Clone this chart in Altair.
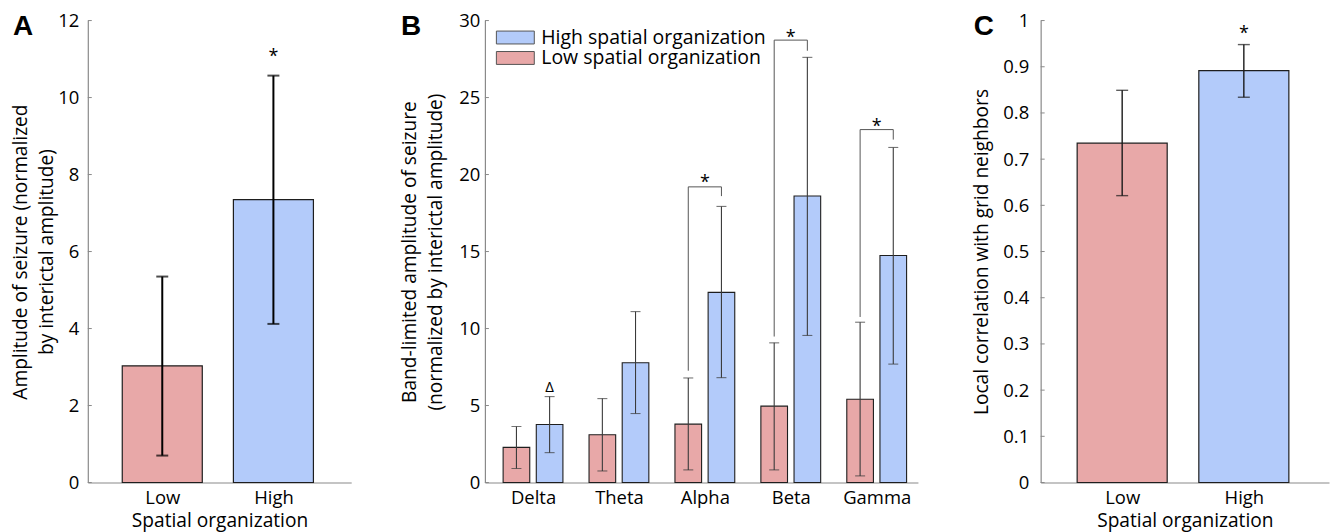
import altair as alt
import pandas as pd

FONT = "Open Sans"
LOW_C = "#E8A8A8"
HIGH_C = "#B3CBFA"
EDGE = "#1e1e1e"
AXIS_C = "#8a8a8a"

# ---------------- Panel A ----------------
a_groups = ["Low", "High"]
a_means = [3.03, 7.35]
a_lo = [0.70, 4.12]
a_hi = [5.35, 10.57]
a_star = [11.17]
a_yticks = [0, 2, 4, 6, 8, 10, 12]
a_title = ["Amplitude of seizure (normalized", "by interictal amplitude)"]

# ---------------- Panel B ----------------
b_bands = ["Delta", "Theta", "Alpha", "Beta", "Gamma"]
b_low_mean = [2.28, 3.10, 3.79, 4.96, 5.41]
b_low_lo = [0.91, 0.75, 0.82, 0.82, 0.43]
b_low_hi = [3.64, 5.45, 6.79, 9.07, 10.41]
b_high_mean = [3.77, 7.78, 12.35, 18.61, 14.74]
b_high_lo = [1.94, 4.48, 6.81, 9.55, 7.69]
b_high_hi = [5.58, 11.10, 17.93, 27.61, 21.76]
b_series = ["High spatial organization", "Low spatial organization"]
b_br_bands = ["Alpha", "Beta", "Gamma"]
b_br_top = [19.20, 28.73, 22.92]
b_br_left_bottom = [7.26, 9.48, 10.75]
b_br_right_bottom = [18.60, 28.04, 22.27]
b_br_star = [19.75, 29.16, 23.39]
b_delta_band = ["Delta"]
b_delta_mark = [6.23]
b_yticks = [0, 5, 10, 15, 20, 25, 30]
b_title = ["Band-limited amplitude of seizure", "(normalized by interictal amplitude)"]

# ---------------- Panel C ----------------
c_groups = ["Low", "High"]
c_means = [0.7345, 0.8915]
c_lo = [0.621, 0.834]
c_hi = [0.849, 0.948]
c_star = [0.981]
c_yticks = [0, 0.1, 0.2, 0.3, 0.4, 0.5, 0.6, 0.7, 0.8, 0.9, 1.0]
c_title = "Local correlation with grid neighbors"

H = 463
LABEL_FS = 18.5
TITLE_FS = 19.2


def label_expr(names):
    parts = " : ".join(f"datum.value == {i+1} ? '{n}'" for i, n in enumerate(names))
    return parts + " : ''"


def two_bar_panel(letter, groups, means, lo, hi, star, yticks, ytitle, ydomain,
                  width, half_w, err_w, err_c, label_pad, title_x, yfmt, letter_x):
    colors = [LOW_C, HIGH_C]
    df = pd.DataFrame({
        "g": groups,
        "pos": [i + 1 for i in range(len(groups))],
        "m": means, "lo": lo, "hi": hi,
        "fill": colors,
    })
    df["x0"] = df["pos"] - half_w
    df["x1"] = df["pos"] + half_w
    xs = alt.Scale(domain=[0.33, 2.70], nice=False, zero=False)
    ys = alt.Scale(domain=ydomain, nice=False, zero=True)
    base = alt.Chart(df)
    bars = base.mark_bar(stroke=EDGE, strokeWidth=1.2).encode(
        x=alt.X("x0:Q", scale=xs, axis=alt.Axis(
            values=[1, 2], labelExpr=label_expr(groups), title="Spatial organization",
            labelPadding=6, titlePadding=4.5, labelFlush=False, ticks=False, tickSize=0)),
        x2="x1:Q",
        y=alt.Y("m:Q", scale=ys, axis=alt.Axis(
            values=yticks, format=yfmt, title=ytitle, labelPadding=label_pad,
            titleX=title_x, titleBaseline="bottom", titleLineHeight=26,
            ticks=False, tickSize=0)),
        y2=alt.datum(0),
        fill=alt.Fill("fill:N", scale=None),
    )
    err = base.mark_rule(color=err_c, strokeWidth=err_w).encode(
        x="pos:Q", y="lo:Q", y2="hi:Q")
    cap_lo = base.mark_tick(orient="horizontal", size=12, thickness=err_w, color=err_c).encode(
        x="pos:Q", y="lo:Q")
    cap_hi = base.mark_tick(orient="horizontal", size=12, thickness=err_w, color=err_c).encode(
        x="pos:Q", y="hi:Q")
    sdf = pd.DataFrame({"pos": [2], "y": star, "t": ["*"]})
    stars = alt.Chart(sdf).mark_text(font=FONT, fontSize=18, baseline="alphabetic", dy=10).encode(
        x="pos:Q", y="y:Q", text="t:N")
    tdf = pd.DataFrame({"v": yticks})
    yt = alt.Chart(tdf).mark_rule(color=AXIS_C, strokeWidth=1).encode(
        x=alt.value(0), x2=alt.value(4), y="v:Q")
    ldf = pd.DataFrame({"t": [letter]})
    let = alt.Chart(ldf).mark_text(font="Liberation Sans", fontWeight="bold", fontSize=28,
                                   align="left", baseline="alphabetic").encode(
        x=alt.value(letter_x), y=alt.value(14), text="t:N")
    return alt.layer(bars, err, cap_lo, cap_hi, yt, stars, let).properties(width=width, height=H)


panel_a = two_bar_panel("A", a_groups, a_means, a_lo, a_hi, a_star, a_yticks, a_title, [0, 12],
                        264, 0.36, 2, "#000000", 9, -57, "d", -75)
panel_c = two_bar_panel("C", c_groups, c_means, c_lo, c_hi, c_star, c_yticks, c_title, [0, 1],
                        289, 0.37, 1.4, "#1a1a1a", 12, -49, ".1~f", -67)

# ---------------- Build panel B ----------------
OFF = 0.193
HW = 0.155
rows = []
for i, band in enumerate(b_bands):
    rows.append({"band": band, "org": b_series[1], "pos": i + 1 - OFF,
                 "m": b_low_mean[i], "lo": b_low_lo[i], "hi": b_low_hi[i]})
    rows.append({"band": band, "org": b_series[0], "pos": i + 1 + OFF,
                 "m": b_high_mean[i], "lo": b_high_lo[i], "hi": b_high_hi[i]})
bdf = pd.DataFrame(rows)
bdf["x0"] = bdf["pos"] - HW
bdf["x1"] = bdf["pos"] + HW

bxs = alt.Scale(domain=[0.44, 5.48], nice=False, zero=False)
bys = alt.Scale(domain=[0, 30], nice=False)
bbase = alt.Chart(bdf)
b_bars = bbase.mark_bar(stroke=EDGE, strokeWidth=1.1).encode(
    x=alt.X("x0:Q", scale=bxs, axis=alt.Axis(
        values=[1, 2, 3, 4, 5], labelExpr=label_expr(b_bands), title=None,
        labelPadding=6, labelFlush=False, ticks=False, tickSize=0)),
    x2="x1:Q",
    y=alt.Y("m:Q", scale=bys, axis=alt.Axis(
        values=b_yticks, format="d", title=b_title, labelPadding=5,
        titleX=-66, titleBaseline="bottom", titleLineHeight=26, ticks=False, tickSize=0)),
    y2=alt.datum(0),
    fill=alt.Fill("org:N", scale=alt.Scale(domain=b_series, range=[HIGH_C, LOW_C]),
                  legend=alt.Legend(
                      title=None, orient="none", legendX=20.5, legendY=7,
                      symbolType="M-2,-0.68H2V0.68H-2Z", symbolSize=361,
                      symbolStrokeColor="#555555", symbolStrokeWidth=1, symbolOpacity=1,
                      labelFont=FONT, labelFontSize=19.5, labelColor="#000000",
                      labelOffset=16, rowPadding=0.5, padding=0, labelLimit=400)),
)
b_err = bbase.mark_rule(color="#3a3a3a", strokeWidth=1.1).encode(x="pos:Q", y="lo:Q", y2="hi:Q")
b_cap_lo = bbase.mark_tick(orient="horizontal", size=10, thickness=1.1, color="#3a3a3a").encode(
    x="pos:Q", y="lo:Q")
b_cap_hi = bbase.mark_tick(orient="horizontal", size=10, thickness=1.1, color="#3a3a3a").encode(
    x="pos:Q", y="hi:Q")

br_rows = []
for j, band in enumerate(b_br_bands):
    gi = b_bands.index(band) + 1
    br_rows.append({"x": gi - OFF, "xe": gi - OFF, "y": b_br_left_bottom[j], "y2": b_br_top[j]})
    br_rows.append({"x": gi - OFF, "xe": gi + OFF, "y": b_br_top[j], "y2": b_br_top[j]})
    br_rows.append({"x": gi + OFF, "xe": gi + OFF, "y": b_br_right_bottom[j], "y2": b_br_top[j]})
brdf = pd.DataFrame(br_rows)
b_brackets = alt.Chart(brdf).mark_rule(color="#555555", strokeWidth=1).encode(
    x="x:Q", x2="xe:Q", y="y:Q", y2="y2:Q")

stdf = pd.DataFrame({"pos": [b_bands.index(b) + 1 for b in b_br_bands], "y": b_br_star,
                     "t": ["*"] * len(b_br_bands)})
b_stars = alt.Chart(stdf).mark_text(font=FONT, fontSize=18, baseline="alphabetic", dy=10).encode(
    x="pos:Q", y="y:Q", text="t:N")
ddf = pd.DataFrame({"pos": [b_bands.index(b) + 1 + OFF for b in b_delta_band], "y": b_delta_mark,
                    "t": ["Δ"]})
b_delta = alt.Chart(ddf).mark_text(font=FONT, fontSize=15, baseline="alphabetic", dy=5).encode(
    x="pos:Q", y="y:Q", text="t:N")
b_yt = alt.Chart(pd.DataFrame({"v": b_yticks})).mark_rule(color=AXIS_C, strokeWidth=1).encode(
    x=alt.value(0), x2=alt.value(4), y="v:Q")
b_letter = alt.Chart(pd.DataFrame({"t": ["B"]})).mark_text(
    font="Liberation Sans", fontWeight="bold", fontSize=28, align="left", baseline="alphabetic").encode(
    x=alt.value(-84), y=alt.value(14), text="t:N")

panel_b = alt.layer(b_bars, b_err, b_cap_lo, b_cap_hi, b_brackets, b_yt, b_stars, b_delta,
                    b_letter).properties(width=434, height=H)

inner = alt.hconcat(panel_a, panel_b, spacing=134, bounds="flush").resolve_scale(fill="independent")
chart = alt.hconcat(inner, panel_c, spacing=55, bounds="full").resolve_scale(
    fill="independent"
).properties(
    padding={"left": 12, "top": 11, "right": 3, "bottom": 5}
).configure_axis(
    labelFont=FONT, labelFontSize=LABEL_FS, labelColor="#000000",
    titleFont=FONT, titleFontSize=TITLE_FS, titleFontWeight="normal", titleColor="#000000",
    domainColor=AXIS_C, domainWidth=1.2, grid=False,
).configure_view(stroke=None)

chart.save("out.html", embed_options={"renderer": "svg", "actions": False})
